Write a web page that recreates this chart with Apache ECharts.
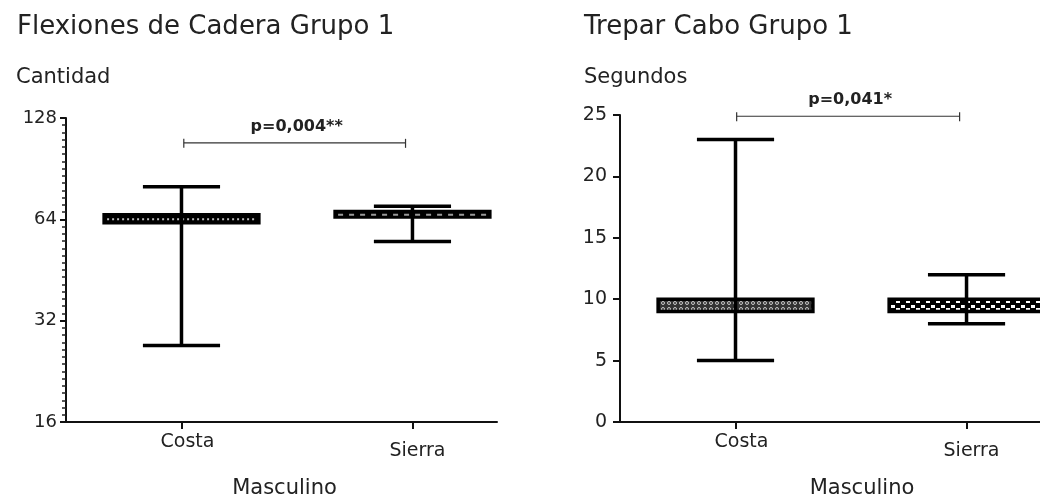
<!DOCTYPE html>
<html><head><meta charset="utf-8">
<script src="https://cdn.jsdelivr.net/npm/echarts@6/dist/echarts.min.js"></script>
<style>html,body{margin:0;padding:0;background:#fff}#c{width:1040px;height:504px}</style>
</head><body><div id="c"></div>
<script>
// ---- data ----
const categories = ['Costa', 'Sierra'];
const flexMin    = [27, 55];
const flexQ1     = [62.5, 65];
const flexMedian = [64, 66];
const flexQ3     = [66, 67.5];
const flexMax    = [80, 70];
const trepMin    = [5, 8];
const trepQ1     = [9, 9];
const trepMedian = [9.5, 9.5];
const trepQ3     = [10, 10];
const trepMax    = [23, 12];
const flexTicks  = [16, 32, 64, 128];
const trepTicks  = [0, 5, 10, 15, 20, 25];
const flexP = 'p=0,004**';
const trepP = 'p=0,041*';
const flexBracket = [0.01, 0.97, 108];
const trepBracket = [0.005, 0.97, 24.9];

const FONT = 'DejaVu Sans';
const TXT = '#222';

function makePattern(w, h, draw) {
  const c = document.createElement('canvas');
  c.width = w; c.height = h;
  draw(c.getContext('2d'));
  return { image: c, repeat: 'repeat' };
}
const ringPattern = makePattern(6, 6, ctx => {
  ctx.fillStyle = '#333'; ctx.fillRect(0, 0, 6, 6);
  ctx.strokeStyle = '#c8c8c8'; ctx.lineWidth = 1;
  ctx.beginPath(); ctx.arc(3, 3, 1.5, 0, Math.PI * 2); ctx.stroke();
});
const checkPattern = makePattern(10, 8, ctx => {
  ctx.fillStyle = '#000'; ctx.fillRect(0, 0, 10, 8);
  ctx.fillStyle = '#fff';
  ctx.fillRect(1, 1, 4, 3); ctx.fillRect(6, 4, 4, 3);
});

const flexStyles = [
  { fill: '#000', median: { stroke: '#bdbdbd', dash: [2, 3], width: 2 } },
  { fill: '#000', median: { stroke: '#9a9a9a', dash: [5, 6], width: 2 } }
];
const trepStyles = [
  { fill: ringPattern, median: null },
  { fill: checkPattern, median: null }
];

const LW = 3.5;

function boxRenderer(styles) {
  return function (params, api) {
    const x = api.value(0);
    const pMin = api.coord([x, api.value(1)]);
    const pQ1 = api.coord([x, api.value(2)]);
    const pMed = api.coord([x, api.value(3)]);
    const pQ3 = api.coord([x, api.value(4)]);
    const pMax = api.coord([x, api.value(5)]);
    const unit = api.coord([x + 1, api.value(2)])[0] - pQ1[0];
    const half = unit * 0.335, capHalf = unit * 0.167;
    const st = styles[params.dataIndex];
    const children = [
      { type: 'rect', shape: { x: pQ1[0] - half, y: pQ3[1], width: half * 2, height: pQ1[1] - pQ3[1] },
        style: { fill: st.fill, stroke: '#000', lineWidth: 3.5 } }
    ];
    if (st.median) {
      children.push({ type: 'line', shape: { x1: pMed[0] - half + 3, y1: pMed[1], x2: pMed[0] + half - 3, y2: pMed[1] },
        style: { stroke: st.median.stroke, lineWidth: st.median.width, lineDash: st.median.dash } });
    }
    children.push(
      { type: 'line', shape: { x1: pMax[0], y1: pMax[1], x2: pMin[0], y2: pMin[1] }, style: { stroke: '#000', lineWidth: LW } },
      { type: 'line', shape: { x1: pMax[0] - capHalf, y1: pMax[1], x2: pMax[0] + capHalf, y2: pMax[1] }, style: { stroke: '#000', lineWidth: LW } },
      { type: 'line', shape: { x1: pMin[0] - capHalf, y1: pMin[1], x2: pMin[0] + capHalf, y2: pMin[1] }, style: { stroke: '#000', lineWidth: LW } }
    );
    return { type: 'group', children };
  };
}

function bracketRenderer(text) {
  return function (params, api) {
    const a = api.coord([api.value(0), api.value(2)]);
    const b = api.coord([api.value(1), api.value(2)]);
    const s = { stroke: '#333', lineWidth: 1.2 };
    return { type: 'group', children: [
      { type: 'line', shape: { x1: a[0], y1: a[1], x2: b[0], y2: b[1] }, style: s },
      { type: 'line', shape: { x1: a[0], y1: a[1] - 4, x2: a[0], y2: a[1] + 5 }, style: s },
      { type: 'line', shape: { x1: b[0], y1: b[1] - 4, x2: b[0], y2: b[1] + 5 }, style: s },
      { type: 'text', style: { text, x: (a[0] + b[0]) / 2 + 2, y: a[1] - 8, align: 'center', verticalAlign: 'bottom',
        font: 'bold 16px "' + FONT + '"', fill: TXT } }
    ] };
  };
}

const axisLineStyle = { color: '#111', width: 2 };

function xAxisCfg(gridIndex, max, nameShift) {
  return {
    type: 'value', gridIndex, min: -0.5, max,
    name: 'Masculino', nameLocation: 'middle', nameGap: 56,
    nameTextStyle: { fontFamily: FONT, fontSize: 21, color: TXT, padding: [0, 0, 0, nameShift] },
    axisLine: { show: true, onZero: false, lineStyle: axisLineStyle },
    axisTick: { show: true, length: 7, lineStyle: { color: '#111', width: 2 }, customValues: [0, 1] },
    axisLabel: {
      customValues: [0, 1], margin: 11,
      formatter: v => (Math.round(v) === 0 ? '{a|' : '{b|') + categories[Math.round(v)] + '}',
      rich: {
        a: { fontFamily: FONT, fontSize: 19, color: TXT, padding: [0, 0, 0, 12] },
        b: { fontFamily: FONT, fontSize: 19, color: TXT, padding: [9, 0, 0, 10] }
      }
    },
    splitLine: { show: false }
  };
}

const option = {
  animation: false,
  backgroundColor: '#fff',
  textStyle: { fontFamily: FONT },
  title: [
    { text: 'Flexiones de Cadera Grupo 1', left: 12, top: 9, textStyle: { fontFamily: FONT, fontSize: 26, fontWeight: 'normal', color: TXT } },
    { text: 'Cantidad', left: 11, top: 62, textStyle: { fontFamily: FONT, fontSize: 21, fontWeight: 'normal', color: TXT } },
    { text: 'Trepar Cabo Grupo 1', left: 579, top: 9, textStyle: { fontFamily: FONT, fontSize: 26, fontWeight: 'normal', color: TXT } },
    { text: 'Segundos', left: 579, top: 62, textStyle: { fontFamily: FONT, fontSize: 21, fontWeight: 'normal', color: TXT } }
  ],
  grid: [
    { left: 66, top: 118, right: 543, bottom: 80 },
    { left: 620, top: 115, right: 0, bottom: 80 }
  ],
  xAxis: [xAxisCfg(0, 1.366, 6), xAxisCfg(1, 1.318, 64)],
  yAxis: [
    {
      type: 'value', gridIndex: 0, min: 4, max: 7, interval: 1, position: 'left',
      axisLine: { show: true, onZero: false, lineStyle: axisLineStyle },
      axisTick: { show: true, length: 6, lineStyle: { color: '#111', width: 2 } },
      minorTick: { show: true, splitNumber: 14, length: 4, lineStyle: { color: '#222', width: 1.5 } },
      axisLabel: { margin: 9, fontFamily: FONT, fontSize: 18, color: TXT,
        formatter: v => String(flexTicks.find(t => Math.abs(Math.log2(t) - v) < 1e-6)) },
      splitLine: { show: false }, minorSplitLine: { show: false }
    },
    {
      type: 'log', logBase: 2, gridIndex: 0, min: flexTicks[0], max: flexTicks[flexTicks.length - 1], show: false,
      axisLine: { onZero: false }, splitLine: { show: false }
    },
    {
      type: 'value', gridIndex: 1, min: trepTicks[0], max: trepTicks[trepTicks.length - 1], interval: 5,
      axisLine: { show: true, onZero: false, lineStyle: axisLineStyle },
      axisTick: { show: true, length: 7, lineStyle: { color: '#111', width: 2 } },
      axisLabel: { margin: 13, fontFamily: FONT, fontSize: 19, color: TXT },
      splitLine: { show: false }
    }
  ],
  series: [
    {
      type: 'custom', xAxisIndex: 0, yAxisIndex: 1, renderItem: boxRenderer(flexStyles),
      encode: { x: 0, y: [1, 2, 3, 4, 5] },
      data: categories.map((c, i) => [i, flexMin[i], flexQ1[i], flexMedian[i], flexQ3[i], flexMax[i]])
    },
    {
      type: 'custom', xAxisIndex: 1, yAxisIndex: 2, renderItem: boxRenderer(trepStyles),
      encode: { x: 0, y: [1, 2, 3, 4, 5] },
      data: categories.map((c, i) => [i, trepMin[i], trepQ1[i], trepMedian[i], trepQ3[i], trepMax[i]])
    },
    {
      type: 'custom', xAxisIndex: 0, yAxisIndex: 1, renderItem: bracketRenderer(flexP),
      encode: { x: [0, 1], y: 2 }, data: [flexBracket]
    },
    {
      type: 'custom', xAxisIndex: 1, yAxisIndex: 2, renderItem: bracketRenderer(trepP),
      encode: { x: [0, 1], y: 2 }, data: [trepBracket]
    }
  ]
};

const chart = echarts.init(document.getElementById('c'), null, { renderer: 'canvas' });
chart.setOption(option);
</script>
</body></html>
